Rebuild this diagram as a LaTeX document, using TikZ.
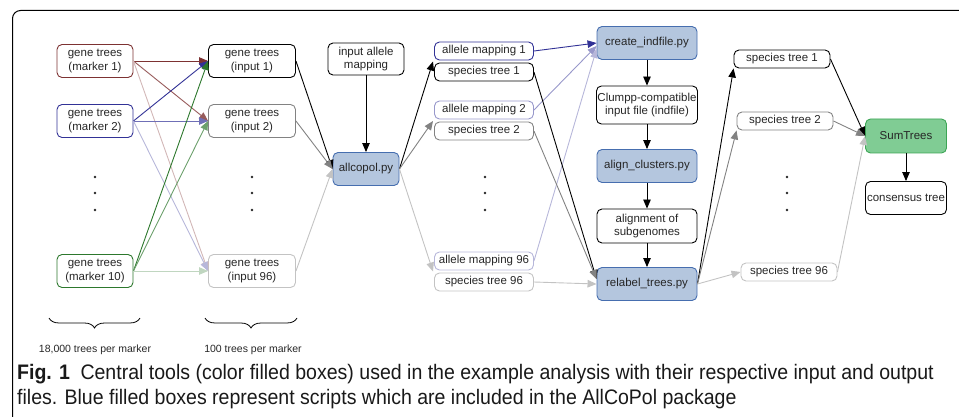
\documentclass[tikz,border=0pt]{standalone}
\usepackage{fontspec}
\setmainfont{Liberation Sans}
\newfontfamily\capfont[FakeStretch=0.93]{Liberation Sans}
\usepackage{tikz}
\usetikzlibrary{arrows.meta,decorations.pathreplacing}

\definecolor{mkred}{RGB}{125,50,50}
\definecolor{mkblue}{RGB}{50,50,150}
\definecolor{mkgreen}{RGB}{45,120,45}
\definecolor{pyfill}{RGB}{180,198,222}
\definecolor{pydraw}{RGB}{70,110,175}
\definecolor{sumfill}{RGB}{128,204,148}
\definecolor{sumdraw}{RGB}{60,165,85}
\definecolor{midgray}{RGB}{130,130,130}
\definecolor{ltgray}{RGB}{195,195,195}

\tikzset{
  box/.style={draw, rounded corners=5pt, line width=0.9pt, align=center,
    font=\fontsize{11.5}{13.5}\selectfont, text=black!85, inner sep=1pt},
  genebox/.style={box, minimum width=76pt, minimum height=33pt},
  inbox/.style={box, minimum width=87pt, minimum height=33pt},
  pairbox/.style={box, minimum width=99pt, minimum height=18pt},
  outbox/.style={box, minimum width=96pt, minimum height=18pt},
  filebox/.style={box, minimum width=100pt, minimum height=34pt},
  toolbox/.style={box, fill=pyfill, draw=pydraw, minimum width=100pt, minimum height=33pt},
  sumbox/.style={box, fill=sumfill, draw=sumdraw, minimum width=81pt, minimum height=34pt},
  flow/.style={-{Triangle[length=9pt,width=7.5pt]}, line width=0.9pt},
  note/.style={font=\fontsize{10.5}{12}\selectfont, text=black!85, inner sep=0pt},
  caption/.style={anchor=base west, inner sep=0pt, text=black!90,
    font=\capfont\fontsize{21}{25}\selectfont}
}

\begin{document}
\begin{tikzpicture}[x=1pt,y=-1pt]
\useasboundingbox (0,0) rectangle (959,417);
\draw[line width=1pt, rounded corners=8pt] (959,10.5) -- (12.5,10.5) -- (12.5,417);

% gene trees of the markers
\node[genebox, draw=mkred] (mk1) at (95,61) {gene trees\\(marker 1)};
\node[genebox, draw=mkblue] (mk2) at (95,121) {gene trees\\(marker 2)};
\node[genebox, draw=mkgreen] (mk10) at (95,271) {gene trees\\(marker 10)};

% input gene tree sets
\node[inbox] (in1) at (252,61) {gene trees\\(input 1)};
\node[inbox, draw=midgray] (in2) at (252,121) {gene trees\\(input 2)};
\node[inbox, draw=ltgray] (in96) at (252,271) {gene trees\\(input 96)};

\node[box, minimum width=76pt, minimum height=32pt] (allele) at (366,59) {input allele\\mapping};
\node[toolbox, minimum width=66pt] (allcopol) at (366,169) {allcopol.py};

% allcopol output
\node[pairbox, draw=mkblue] (am1) at (484,51) {allele mapping 1};
\node[pairbox] (st1) at (484,72) {species tree 1};
\node[pairbox, draw=mkblue!50] (am2) at (484,110) {allele mapping 2};
\node[pairbox, draw=midgray] (st2) at (484,131) {species tree 2};
\node[pairbox, draw=mkblue!35] (am96) at (484,261) {allele mapping 96};
\node[pairbox, draw=ltgray] (st96) at (484,282) {species tree 96};
\coordinate (p1) at (433,61.5);
\coordinate (p2) at (433,121);
\coordinate (p96) at (433,271.5);

% central column
\node[toolbox] (create) at (647,43) {create\_indfile.py};
\node[filebox, minimum height=38pt] (clumpp) at (647,105) {Clumpp-compatible\\input file (indfile)};
\node[toolbox] (align) at (647,166) {align\_clusters.py};
\node[filebox] (subg) at (647,226) {alignment of\\subgenomes};
\node[toolbox] (relabel) at (647,284) {relabel\_trees.py};

% relabelled trees
\node[outbox] (sp1) at (782,59) {species tree 1};
\node[outbox, draw=midgray] (sp2) at (785,121) {species tree 2};
\node[outbox, draw=ltgray] (sp96) at (789,272) {species tree 96};
\node[sumbox] (sum) at (906,136) {SumTrees};
\node[box, minimum width=81pt, minimum height=33pt] (cons) at (906,198) {consensus tree};

\foreach \x in {95,252,485,787}
  \foreach \y in {177,193,210}
    \fill[black!85] (\x,\y) circle (1.4pt);

\draw[decorate, decoration={brace, mirror, amplitude=10pt}, line width=0.8pt]
  (49,318) -- (140,318);
\draw[decorate, decoration={brace, mirror, amplitude=10pt}, line width=0.8pt]
  (205,318) -- (297,318);
\node[note] (perm) at (95,350) {18,000 trees per marker};
\node[note] (peri) at (253,350) {100 trees per marker};

\path[flow]
  (mk1.east) edge[mkred] (in1.west) edge[mkred!80] (in2.west) edge[mkred!35] (in96.west)
  (mk2.east) edge[mkblue] (in1.west) edge[mkblue!70] (in2.west) edge[mkblue!35] (in96.west)
  (mk10.east) edge[mkgreen] (in1.west) edge[mkgreen!70] (in2.west) edge[mkgreen!30] (in96.west)
  (in1.east) edge (allcopol.west)
  (in2.east) edge[midgray] (allcopol.west)
  (in96.east) edge[ltgray] (allcopol.west)
  (allele) edge (allcopol)
  (allcopol.east) edge (p1) edge[midgray] (p2) edge[ltgray] (p96)
  (am1.east) edge[mkblue] (create.west)
  (am2.east) edge[mkblue!50] ([yshift=-3pt]create.west)
  (am96.east) edge[mkblue!35] ([yshift=-6pt]create.west)
  (st1.east) edge ([yshift=5pt]relabel.west)
  (st2.east) edge[midgray] ([yshift=5pt]relabel.west)
  (st96.east) edge[ltgray] (relabel.west)
  (create) edge (clumpp)
  (clumpp) edge (align)
  (align) edge (subg)
  (subg) edge (relabel)
  (relabel.east) edge (sp1.south west) edge[midgray] (sp2.south west) edge[ltgray] (sp96.west)
  (sp1.east) edge (sum.west)
  (sp2.east) edge[midgray] (sum.west)
  (sp96.east) edge[ltgray] (sum.west)
  (sum) edge (cons);

% caption
\node[caption] (cap1) at (17,379) {\textbf{Fig. 1}\enspace Central tools (color filled boxes) used in the example analysis with their respective input and output};
\node[caption] (cap2) at (17,404) {files. Blue filled boxes represent scripts which are included in the AllCoPol package};
\end{tikzpicture}
\end{document}
